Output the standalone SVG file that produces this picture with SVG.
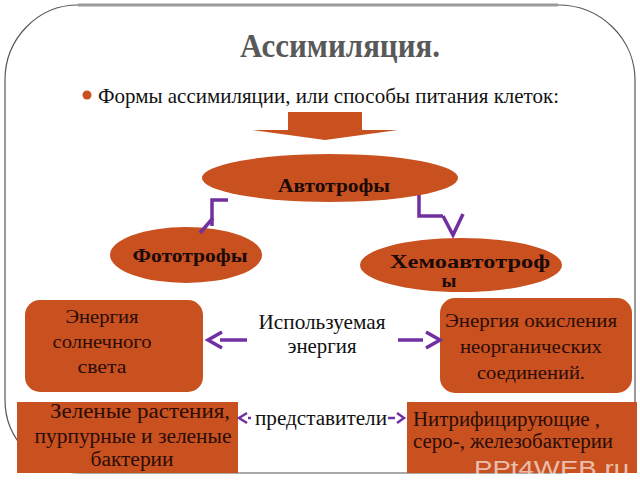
<svg xmlns="http://www.w3.org/2000/svg" width="640" height="480" viewBox="0 0 640 480">
<defs>
<style>
.fill{fill:#C9501F}
.serif{font-family:"Liberation Serif","Times New Roman",serif}
.t{font-family:"Liberation Serif","Times New Roman",serif;fill:#2a0d08;text-anchor:middle}
.b{font-weight:bold;fill:#1a0a08}
.d{font-family:"Liberation Serif","Times New Roman",serif;fill:#111;text-anchor:middle}
.c{fill:none;stroke:#7030A0;stroke-width:3.5;stroke-linecap:butt;stroke-linejoin:miter}
.c2{fill:none;stroke:#7030A0;stroke-width:2.5}
</style>
</defs>
<rect width="640" height="480" fill="#ffffff"/>
<g id="frame">
<path d="M78,5 H558 A77,75 0 0 1 635,80 V400 A75,73 0 0 1 560,473 H80 A75,73 0 0 1 5,400 V80 A73,75 0 0 1 78,5 Z" fill="none" stroke="#555" stroke-width="1.2"/>
<line x1="78" y1="5" x2="558" y2="5" stroke="#9a9a9a" stroke-width="3"/>
<line x1="5" y1="80" x2="5" y2="400" stroke="#9a9a9a" stroke-width="2"/>
<line x1="635" y1="80" x2="635" y2="400" stroke="#9a9a9a" stroke-width="2"/>
</g>
<g id="title">
<text x="340" y="57" class="serif" font-size="33" font-weight="bold" fill="#595959" text-anchor="middle" textLength="200" lengthAdjust="spacingAndGlyphs">Ассимиляция.</text>
</g>
<g id="subtitle">
<circle cx="87" cy="95" r="4.5" fill="#C9501F"/>
<text x="98" y="103" class="serif" font-size="21" fill="#111" textLength="461" lengthAdjust="spacingAndGlyphs">Формы ассимиляции, или способы питания клеток:</text>
</g>
<g id="block-arrow">
<rect x="288" y="112" width="74" height="19" class="fill"/>
<polygon points="252,130 398,130 325,140" class="fill"/>
</g>
<g id="autotrophs">
<ellipse cx="330" cy="178" rx="128" ry="24" class="fill"/>
<text x="334" y="192" class="t b" font-size="18" textLength="112" lengthAdjust="spacingAndGlyphs">Автотрофы</text>
</g>
<g id="phototrophs">
<ellipse cx="186" cy="255" rx="76" ry="28" class="fill"/>
<text x="190" y="262" class="t b" font-size="18" textLength="115" lengthAdjust="spacingAndGlyphs">Фототрофы</text>
</g>
<g id="chemoautotrophs">
<ellipse cx="461" cy="265" rx="101" ry="27" class="fill"/>
<text x="470" y="268" class="t b" font-size="19" textLength="160" lengthAdjust="spacingAndGlyphs">Хемоавтотроф</text>
<text x="449" y="287" class="t b" font-size="19">ы</text>
</g>
<g id="solar-energy">
<rect x="25" y="300" width="178" height="92" rx="15" ry="15" class="fill"/>
<text class="t" font-size="19"><tspan x="102" y="323" textLength="73" lengthAdjust="spacingAndGlyphs">Энергия</tspan><tspan x="102" y="348" textLength="99" lengthAdjust="spacingAndGlyphs">солнечного</tspan><tspan x="102" y="373" textLength="49" lengthAdjust="spacingAndGlyphs">света</tspan></text>
</g>
<g id="used-energy">
<text class="d" font-size="21"><tspan x="322" y="329" textLength="127" lengthAdjust="spacingAndGlyphs">Используемая</tspan><tspan x="322" y="353" textLength="69" lengthAdjust="spacingAndGlyphs">энергия</tspan></text>
</g>
<g id="oxidation-energy">
<rect x="440" y="298" width="192" height="95" rx="15" ry="15" class="fill"/>
<text class="t" font-size="19"><tspan x="531" y="327" textLength="172" lengthAdjust="spacingAndGlyphs">Энергия окисления</tspan><tspan x="531" y="353" textLength="142" lengthAdjust="spacingAndGlyphs">неорганических</tspan><tspan x="531" y="379" textLength="108" lengthAdjust="spacingAndGlyphs">соединений.</tspan></text>
</g>
<g id="green-plants">
<rect x="17" y="402" width="221" height="71" class="fill"/>
<text class="t" font-size="20"><tspan x="140" y="418" textLength="180" lengthAdjust="spacingAndGlyphs">Зеленые растения,</tspan><tspan x="133" y="443" textLength="197" lengthAdjust="spacingAndGlyphs">пурпурные  и зеленые</tspan><tspan x="132" y="466" textLength="83" lengthAdjust="spacingAndGlyphs">бактерии</tspan></text>
</g>
<g id="representatives">
<text x="321" y="425" class="d" font-size="20" textLength="132" lengthAdjust="spacingAndGlyphs">представители</text>
</g>
<g id="nitrifying">
<rect x="407" y="402" width="230" height="71" class="fill"/>
<text class="t" font-size="20" style="text-anchor:start"><tspan x="413" y="426" textLength="187" lengthAdjust="spacingAndGlyphs">Нитрифицирующие ,</tspan><tspan x="413" y="448" textLength="200" lengthAdjust="spacingAndGlyphs">серо-, железобактерии</tspan></text>
</g>
<g id="connectors">
<path class="c" d="M228,200 H212 V226"/>
<path class="c" d="M213,218 L200,233"/>
<path class="c" d="M419,195 V216 H443"/>
<path class="c" d="M443,216 L453,235 L463,214"/>
<path class="c" d="M247,340 H220"/>
<path class="c" d="M222,332 L208,340 L222,348"/>
<path class="c" d="M398,340 H423"/>
<path class="c" d="M426,332 L440,340 L426,348"/>
<path class="c2" d="M247,413 L239,418 L247,423"/>
<path class="c2" d="M248,418 H251"/>
<path class="c2" d="M388,418 H395"/>
<path class="c2" d="M397,413 L404,418 L397,423"/>
</g>
<g id="watermark">
<text x="474" y="476" font-family="'Liberation Sans', Arial, sans-serif" font-size="22" fill="#ffffff" fill-opacity="0.65" textLength="155" lengthAdjust="spacingAndGlyphs">PPt4WEB.ru</text>
</g>
</svg>
